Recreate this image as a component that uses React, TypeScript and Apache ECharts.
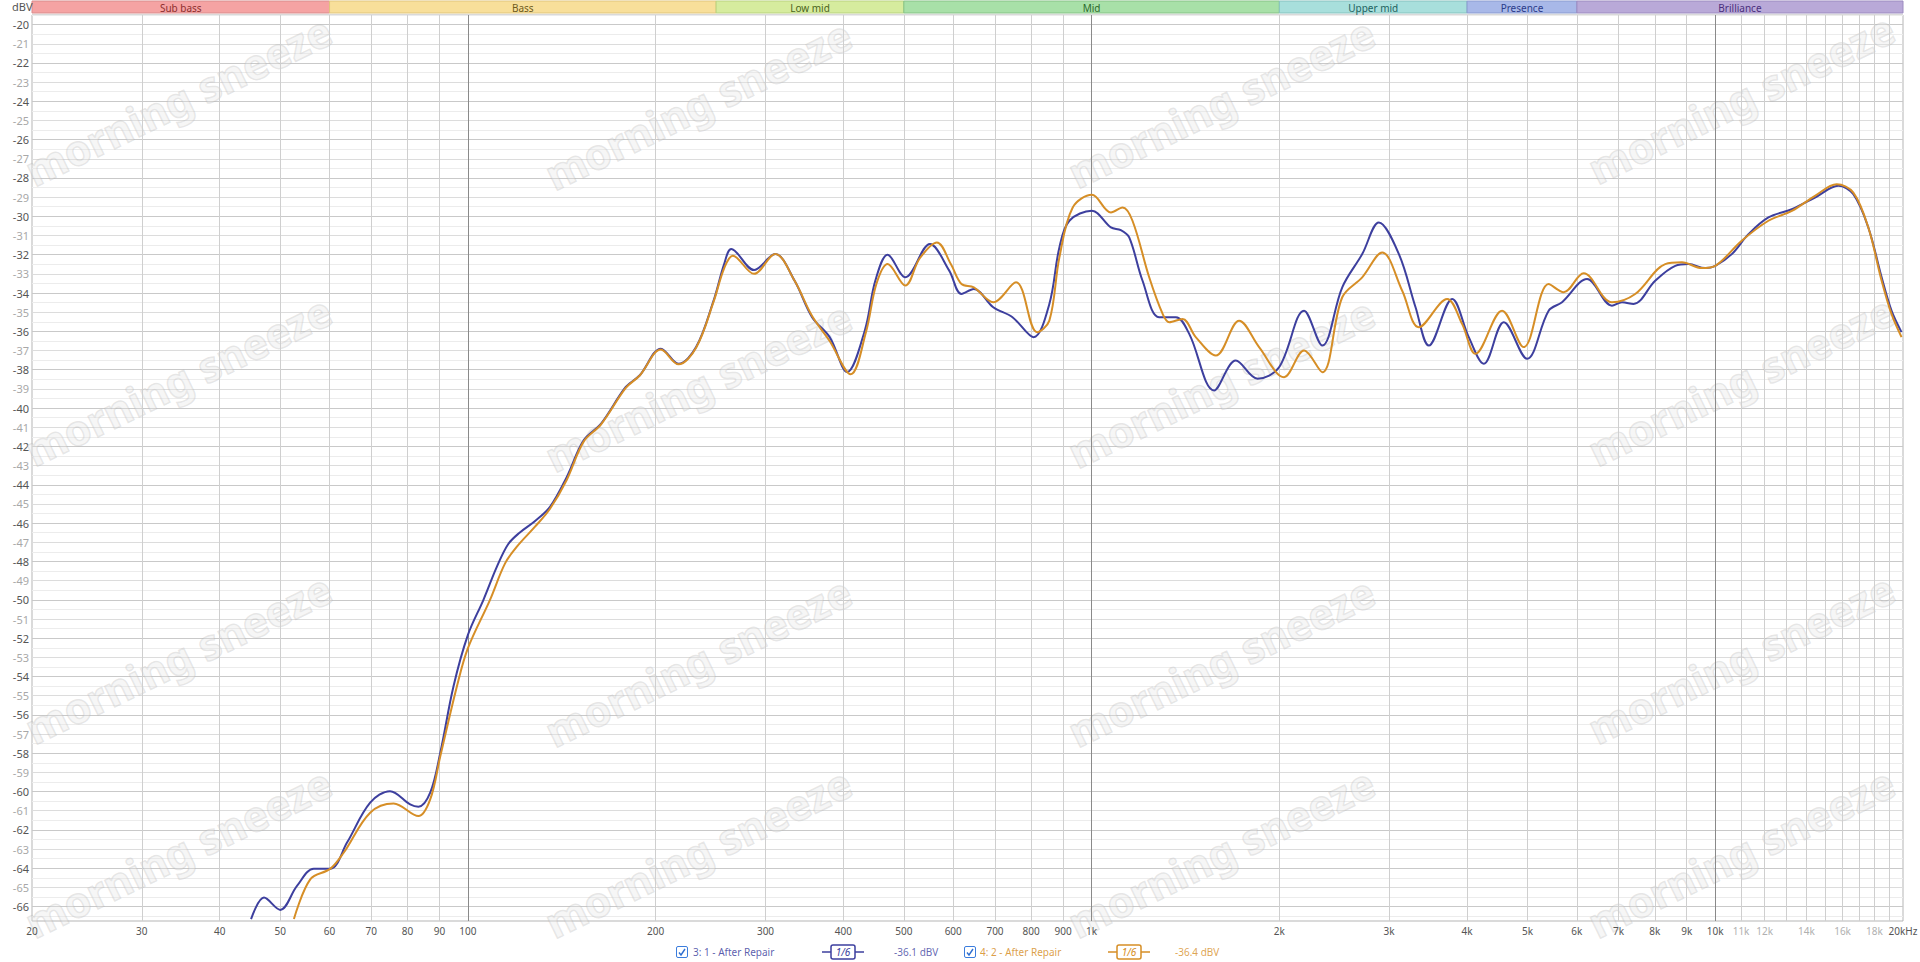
import React, { useEffect, useRef } from 'react';
import * as echarts from 'echarts';

const FONT = '"Noto Sans", "Open Sans", sans-serif';

// [frequency Hz, level dBV]
const blueCurve: [number, number][] = [
  [44.9, -66.65], [47.1, -65.53], [50, -66.17], [53.2, -64.92], [56.6, -64.02], [60.2, -64.02],
  [64, -62.66], [69.7, -60.58], [75, -59.98], [80.8, -60.67], [83.3, -60.79], [87, -60.06],
  [90.3, -57.98], [94.8, -54.52], [100, -51.83], [105.9, -50.0], [111.3, -48.27], [116, -47.1],
  [121, -46.5], [128, -45.9], [135.4, -45.15], [144, -43.6], [153.3, -41.68], [163.5, -40.81],
  [179.1, -38.9], [188.6, -38.29], [203.9, -36.9], [217.6, -37.69], [232.2, -36.82], [247.7, -34.39],
  [257.6, -32.48], [264.4, -31.7], [287.6, -32.8], [310.9, -31.96], [333.9, -33.35], [356.3, -35.26],
  [380.2, -36.3], [405.7, -38.12], [432.9, -35.95], [450.1, -33.35], [471, -32.0], [502.8, -33.18],
  [550.5, -31.44], [591.2, -32.83], [618.6, -34.05], [647.4, -33.79], [695.5, -34.74], [746.8, -35.26],
  [807.3, -36.3], [855.6, -34.57], [887.9, -31.62], [921.2, -30.23], [1001, -29.71], [1074, -30.58],
  [1114, -30.72], [1149, -31.1], [1207, -33.36], [1283, -35.26], [1365, -35.26], [1434, -36.13],
  [1572, -39.08], [1703, -37.52], [1845, -38.47], [1998, -37.87], [2191, -34.92], [2344, -36.74],
  [2523, -33.7], [2716, -31.97], [2888, -30.32], [3110, -31.97], [3307, -34.74], [3474, -36.74],
  [3786, -34.31], [4025, -36.3], [4255, -37.69], [4581, -35.52], [4992, -37.43], [5406, -34.92],
  [5680, -34.48], [6229, -33.27], [6829, -34.66], [7087, -34.48], [7396, -34.57], [8011, -33.36],
  [8627, -32.58], [9060, -32.49], [9634, -32.7], [10000, -32.58], [10630, -31.97], [11305, -30.93],
  [12168, -30.06], [13268, -29.63], [14453, -29.02], [15752, -28.41], [16649, -28.85], [17596, -30.58],
  [18483, -33.18], [19169, -34.92], [19892, -36.04],
];

const orangeCurve: [number, number][] = [
  [52.6, -66.65], [55.9, -64.57], [60.2, -64.02], [63.2, -63.19], [69.7, -61.1], [76, -60.62],
  [83.3, -61.28], [87, -60.41], [90.3, -58.16], [96, -54.52], [100, -52.52], [108.5, -50.0],
  [114.7, -48.1], [120, -47.2], [128, -46.2], [135.4, -45.25], [144, -43.75], [153.3, -41.75],
  [163.5, -40.85], [179.1, -38.95], [188.6, -38.3], [203.9, -36.95], [217.6, -37.72], [232.2, -36.85],
  [247.7, -34.45], [257.6, -32.7], [265.8, -32.05], [287.6, -33.0], [310.9, -31.96], [333.9, -33.35],
  [356.3, -35.2], [380.2, -36.5], [411, -38.24], [435, -36.0], [452, -33.5], [471, -32.48],
  [502.8, -33.61], [530, -32.2], [564.9, -31.36], [595, -32.5], [618.6, -33.53], [647.4, -33.7],
  [695.5, -34.48], [756.5, -33.44], [817.8, -36.04], [855.6, -35.44], [887.9, -32.14], [932.7, -29.54],
  [1001, -28.88], [1074, -29.8], [1121, -29.54], [1163, -30.23], [1237, -33.18], [1300, -35.09],
  [1332, -35.52], [1399, -35.35], [1469, -36.3], [1582, -37.26], [1724, -35.44], [1856, -36.82],
  [2035, -38.39], [2191, -37.0], [2344, -38.13], [2523, -34.22], [2716, -33.18], [2924, -31.88],
  [3148, -33.88], [3348, -35.78], [3716, -34.31], [3927, -35.61], [4126, -37.17], [4552, -34.92],
  [4931, -36.82], [5406, -33.53], [5714, -33.96], [6151, -32.97], [6829, -34.48], [7441, -34.05],
  [8313, -32.49], [8842, -32.4], [9515, -32.7], [10000, -32.58], [11026, -31.27], [12168, -30.23],
  [13268, -29.72], [14453, -28.93], [15657, -28.33], [16649, -28.76], [17596, -30.58], [18483, -33.36],
  [19169, -35.09], [19892, -36.3],
];

const xTickFreqs = [20, 30, 40, 50, 60, 70, 80, 90, 100, 200, 300, 400, 500, 600, 700, 800, 900,
  1000, 2000, 3000, 4000, 5000, 6000, 7000, 8000, 9000, 10000, 11000, 12000, 14000, 16000, 18000, 20000];
const xTickLabels = ['20', '30', '40', '50', '60', '70', '80', '90', '100', '200', '300', '400', '500',
  '600', '700', '800', '900', '1k', '2k', '3k', '4k', '5k', '6k', '7k', '8k', '9k', '10k', '11k', '12k',
  '14k', '16k', '18k', '20kHz'];
const xFaintLabelFreqs = [11000, 12000, 14000, 16000, 18000];
const xExtraGridFreqs = [13000, 15000, 17000, 19000];
const decadeFreqs = [100, 1000, 10000];

const bandNames = ['Sub bass', 'Bass', 'Low mid', 'Mid', 'Upper mid', 'Presence', 'Brilliance'];
const bandStarts = [20, 60, 250, 500, 2000, 4000, 6000];
const bandEnds = [60, 250, 500, 2000, 4000, 6000, 20000];
const bandFills = ['#f5a3a3', '#f8df9a', '#d6ec9e', '#a8e0a8', '#a8dfdc', '#a8b8e8', '#b9a9d8'];
const bandStrokes = ['#d98c8c', '#e0c57c', '#b9d27e', '#86c286', '#86c2bf', '#8a9bd0', '#9c8bc0'];
const bandTextColors = ['#8c2e2e', '#6e5a1c', '#4a6420', '#2c6a2c', '#22625f', '#2c3c8a', '#4a2e7c'];

const seriesNames = ['3: 1 - After Repair', '4: 2 - After Repair'];
const seriesReadouts = ['-36.1 dBV', '-36.4 dBV'];
const seriesColors = ['#3d3f9e', '#d68e26'];

const Y_MIN = -66.75;
const Y_MAX = -19.5;

const watermarkCenters: [number, number][] = [
  [178, 100], [698, 104], [1221, 102], [1741, 98],
  [178, 380], [698, 386], [1221, 382], [1741, 380],
  [178, 658], [698, 661], [1221, 661], [1741, 658],
  [178, 852], [698, 852], [1221, 852], [1741, 852],
];

function buildOption() {
  const gridFreqs = [...xTickFreqs, ...xExtraGridFreqs];
  const labelFor = (f: number) => {
    const i = xTickFreqs.indexOf(f);
    return i >= 0 ? xTickLabels[i] : '';
  };
  const markData = gridFreqs.map((f) => {
    const isEdge = f === 20 || f === 20000;
    const isDecade = decadeFreqs.indexOf(f) >= 0;
    const lbl = labelFor(f);
    return {
      xAxis: f,
      lineStyle: {
        color: isEdge ? 'rgba(0,0,0,0)' : isDecade ? '#8a8a8a' : '#cfcfcf',
        width: 1,
        type: 'solid',
      },
      label: {
        show: lbl !== '',
        position: 'start',
        formatter: lbl,
        color: xFaintLabelFreqs.indexOf(f) >= 0 ? '#b0b0b0' : '#555',
        fontSize: 10,
        fontFamily: FONT,
        distance: 5,
      },
    };
  });

  // splitLine colours cycle every 0.25 dB starting at -66.75:
  // q, half, q, even, q, half, q, odd
  const yLineColors = ['rgba(0,0,0,0)', '#ececec', 'rgba(0,0,0,0)', '#c9c9c9',
    'rgba(0,0,0,0)', '#ececec', 'rgba(0,0,0,0)', '#dcdcdc'];

  const graphics: any[] = [];
  graphics.push({
    type: 'text', x: 12, y: 1, z: 5, silent: true,
    style: { text: 'dBV', fill: '#555', font: `11px ${FONT}` },
  });
  watermarkCenters.forEach(([x, y]) => {
    graphics.push({
      type: 'text', x, y, rotation: 0.45, z: 1, silent: true,
      style: {
        text: 'morning sneeze', font: `bold 42px ${FONT}`, align: 'center', verticalAlign: 'middle',
        fill: 'rgba(230,230,230,0.35)', stroke: 'rgba(170,170,170,0.28)', lineWidth: 1.5,
      },
    });
  });

  const legendLayout = [
    { box: 676, text: 693, iconL: 822, iconR: 864, readout: 894 },
    { box: 964, text: 980, iconL: 1108, iconR: 1150, readout: 1175 },
  ];
  const ly = 952;
  legendLayout.forEach((L, i) => {
    const c = seriesColors[i];
    graphics.push({
      type: 'rect', z: 5, silent: true,
      shape: { x: L.box + 0.5, y: ly - 5.5, width: 11, height: 11, r: 1.5 },
      style: { fill: '#fff', stroke: '#3b7ddd', lineWidth: 1 },
    });
    graphics.push({
      type: 'polyline', z: 6, silent: true,
      shape: { points: [[L.box + 3, ly + 0.5], [L.box + 5, ly + 3], [L.box + 9, ly - 3]] },
      style: { stroke: '#2f6fd0', lineWidth: 1.4, fill: null },
    });
    graphics.push({
      type: 'text', x: L.text, y: ly, z: 5, silent: true,
      style: { text: seriesNames[i], fill: c, font: `10px ${FONT}`, verticalAlign: 'middle', opacity: 0.85 },
    });
    graphics.push({
      type: 'line', z: 5, silent: true,
      shape: { x1: L.iconL, y1: ly, x2: L.iconR, y2: ly },
      style: { stroke: c, lineWidth: 1.5 },
    });
    const mid = (L.iconL + L.iconR) / 2;
    graphics.push({
      type: 'rect', z: 6, silent: true,
      shape: { x: mid - 12, y: ly - 7, width: 24, height: 14, r: 2 },
      style: { fill: '#fff', stroke: c, lineWidth: 1.5 },
    });
    graphics.push({
      type: 'text', x: mid, y: ly, z: 7, silent: true,
      style: { text: '1/6', fill: c, font: `italic 10px ${FONT}`, align: 'center', verticalAlign: 'middle' },
    });
    graphics.push({
      type: 'text', x: L.readout, y: ly, z: 5, silent: true,
      style: { text: seriesReadouts[i], fill: c, font: `10px ${FONT}`, verticalAlign: 'middle', opacity: 0.8 },
    });
  });

  return {
    animation: false,
    backgroundColor: '#ffffff',
    textStyle: { fontFamily: FONT },
    grid: [
      { left: 32, right: 17, top: 15, bottom: 41, show: true, borderColor: '#b5b5b5', borderWidth: 1, backgroundColor: '#fff' },
      { left: 32, right: 17, top: 1, height: 12, show: false },
    ],
    xAxis: [
      {
        type: 'log', logBase: 10, gridIndex: 0, min: 20, max: 20000,
        axisLine: { show: false }, axisTick: { show: false }, axisLabel: { show: false }, splitLine: { show: false },
      },
      { type: 'log', logBase: 10, gridIndex: 1, min: 20, max: 20000, show: false },
    ],
    yAxis: [
      {
        type: 'value', gridIndex: 0, min: Y_MIN, max: Y_MAX, interval: 0.25,
        axisLine: { show: false }, axisTick: { show: false },
        axisLabel: {
          margin: 3,
          formatter: (v: number) => {
            const r = Math.round(v);
            if (Math.abs(v - r) > 1e-6) return '';
            return r % 2 === 0 ? `{e|${r}}` : `{o|${r}}`;
          },
          rich: {
            e: { color: '#555', fontSize: 11, fontFamily: FONT },
            o: { color: '#a8a8a8', fontSize: 11, fontFamily: FONT },
          },
        },
        splitLine: { show: true, showMinLine: true, showMaxLine: true, lineStyle: { color: yLineColors, width: 1 } },
      },
      { type: 'value', gridIndex: 1, min: 0, max: 1, show: false },
    ],
    graphic: graphics,
    series: [
      {
        type: 'custom',
        xAxisIndex: 1,
        yAxisIndex: 1,
        silent: true,
        data: bandStarts.map((s, i) => [s, bandEnds[i], i]),
        encode: { x: [0, 1] },
        renderItem: (params: any, api: any) => {
          const i = params.dataIndex;
          const s = api.coord([api.value(0), 1]);
          const e = api.coord([api.value(1), 0]);
          return {
            type: 'group',
            children: [
              {
                type: 'rect',
                shape: { x: s[0], y: s[1], width: e[0] - s[0], height: e[1] - s[1] },
                style: { fill: bandFills[i], stroke: bandStrokes[i], lineWidth: 1 },
              },
              {
                type: 'text',
                style: {
                  text: bandNames[i], x: (s[0] + e[0]) / 2, y: (s[1] + e[1]) / 2 + 0.5,
                  align: 'center', verticalAlign: 'middle', fill: bandTextColors[i], font: `10px ${FONT}`,
                },
              },
            ],
          };
        },
      },
      {
        type: 'line',
        name: seriesNames[0],
        xAxisIndex: 0,
        yAxisIndex: 0,
        data: blueCurve,
        smooth: 0.35,
        showSymbol: false,
        symbol: 'none',
        clip: true,
        z: 3,
        lineStyle: { color: seriesColors[0], width: 2 },
        markLine: {
          silent: true,
          symbol: ['none', 'none'],
          z: 1,
          animation: false,
          data: markData,
        },
      },
      {
        type: 'line',
        name: seriesNames[1],
        xAxisIndex: 0,
        yAxisIndex: 0,
        data: orangeCurve,
        smooth: 0.35,
        showSymbol: false,
        symbol: 'none',
        clip: true,
        z: 4,
        lineStyle: { color: seriesColors[1], width: 2 },
      },
    ],
  };
}

export default function App() {
  const ref = useRef<HTMLDivElement>(null);
  useEffect(() => {
    if (!ref.current) return;
    const chart = echarts.init(ref.current, undefined, { renderer: 'svg' });
    chart.setOption(buildOption() as any);
    return () => chart.dispose();
  }, []);
  return (
    <div
      ref={ref}
      style={{ position: 'absolute', left: 0, top: 0, width: 1920, height: 962, background: '#fff' }}
    />
  );
}
